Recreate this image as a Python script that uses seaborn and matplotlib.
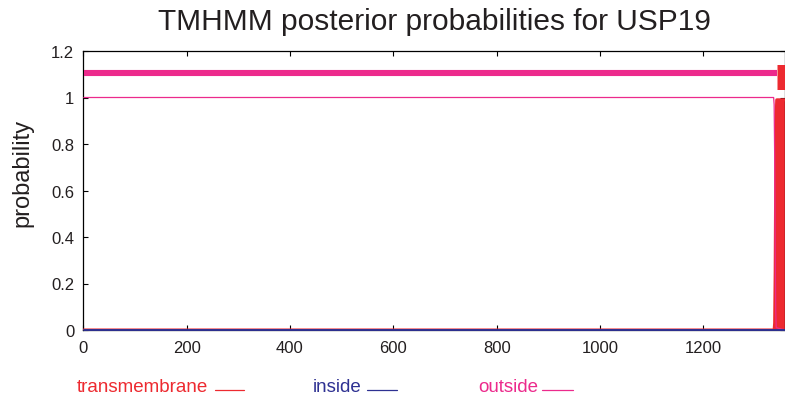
import matplotlib
matplotlib.use("Agg")
import matplotlib.pyplot as plt
import seaborn as sns
import pandas as pd
from matplotlib.lines import Line2D

# ---- data ----
title = "TMHMM posterior probabilities for USP19"
seq_len = 1358
x_ticks = [0, 200, 400, 600, 800, 1000, 1200]
y_ticks = [0, 0.2, 0.4, 0.6, 0.8, 1.0, 1.2]
y_tick_labels = ["0", "0.2", "0.4", "0.6", "0.8", "1", "1.2"]

pos_outside = [1, 1336, 1337, 1338, 1339, 1340, 1341, 1358]
prob_outside = [1.0, 1.0, 0.97, 0.75, 0.35, 0.08, 0.01, 0.0]

pos_tm = [1, 1337, 1338, 1339, 1340, 1341, 1342, 1358]
prob_tm = [0.0, 0.0, 0.03, 0.25, 0.65, 0.92, 0.99, 0.99]

pos_inside = [1, 1358]
prob_inside = [0.0, 0.0]

# predicted topology segments (start, end)
seg_outside = [1, 1342]
seg_tm = [1342, 1358]

legend_labels = ["transmembrane", "inside", "outside"]

# ---- style ----
RED = "#ED2A30"
NAVY = "#2E3192"
MAGENTA = "#EC2A8C"
TEXT = "#231F20"

sns.set_style("ticks")
plt.rcParams["font.family"] = ["Liberation Sans", "DejaVu Sans"]

fig = plt.figure(figsize=(7.85, 4.02), dpi=100)
W, H = 785, 402
ax = fig.add_axes([83.3 / W, (H - 331) / H, (W - 83.3) / W, 279 / H])

df_out = pd.DataFrame({"pos": pos_outside, "prob": prob_outside})
df_tm = pd.DataFrame({"pos": pos_tm, "prob": prob_tm})
df_in = pd.DataFrame({"pos": pos_inside, "prob": prob_inside})

# transmembrane: filled area with thick outline
ax.fill_between(df_tm["pos"], 0, df_tm["prob"], color=RED, lw=0, zorder=2)
sns.lineplot(data=df_tm, x="pos", y="prob", ax=ax, color=RED, lw=2.2,
             estimator=None, zorder=3)
sns.lineplot(data=df_out, x="pos", y="prob", ax=ax, color=MAGENTA, lw=0.9,
             estimator=None, zorder=4)
sns.lineplot(data=df_in, x="pos", y="prob", ax=ax, color=NAVY, lw=1.4,
             estimator=None, zorder=5, clip_on=False)

# topology bars on top
ax.hlines(1.106, seg_outside[0], seg_outside[1], color=MAGENTA, lw=4.4,
          capstyle="butt", zorder=3)
ax.hlines(1.09, seg_tm[0], seg_tm[1] + 20, color=RED, lw=18,
          capstyle="butt", zorder=3)

ax.set_xlim(0, seq_len)
ax.set_ylim(0, 1.2)
ax.set_xticks(x_ticks)
ax.set_xticklabels([str(t) for t in x_ticks])
ax.set_yticks(y_ticks)
ax.set_yticklabels(y_tick_labels)
ax.tick_params(direction="in", length=3.5, width=0.8, colors="black",
               labelcolor=TEXT, labelsize=12, top=True, right=True)
ax.tick_params(axis="y", pad=6.5)
ax.tick_params(axis="x", pad=7.5)
for s in ax.spines.values():
    s.set_visible(True)
    s.set_color("black")
    s.set_linewidth(0.9)
ax.set_xlabel("")
ax.set_ylabel("probability", fontsize=17, color=TEXT)
ax.yaxis.set_label_coords(-0.0717, 0.566)

fig.text(434 / W, 1 - 22 / H, title, ha="center", va="center",
         fontsize=21.5, color=TEXT)

# legend texts and short lines
items = [
    (legend_labels[0], RED, 77, 215, 244),
    (legend_labels[1], NAVY, 313, 367, 397),
    (legend_labels[2], MAGENTA, 478, 542, 573),
]
for label, col, tx, lx0, lx1 in items:
    fig.text(tx / W, 1 - 388 / H, label, ha="left", va="center",
             fontsize=13.5, color=col)
    fig.add_artist(Line2D([lx0 / W, lx1 / W], [1 - 391 / H, 1 - 391 / H],
                          color=col, lw=0.9, transform=fig.transFigure))

fig.savefig("out.png", dpi=100)
